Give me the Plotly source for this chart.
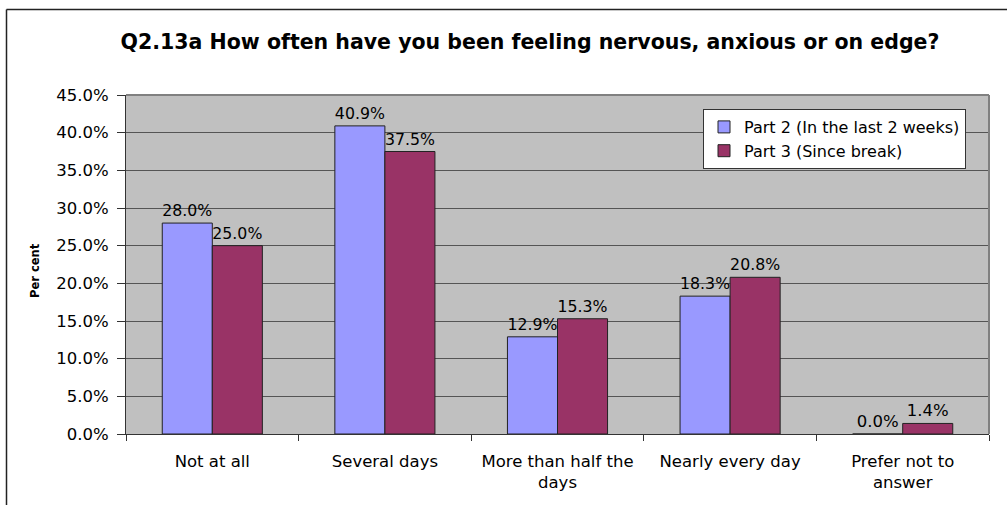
import plotly.graph_objects as go

categories = ["Not at all", "Several days", "More than half the<br>days",
              "Nearly every day", "Prefer not to<br>answer"]
part2 = [0.280, 0.409, 0.129, 0.183, 0.000]
part3 = [0.250, 0.375, 0.153, 0.208, 0.014]
series_names = ["Part 2 (In the last 2 weeks)", "Part 3 (Since break)"]

W, H = 1007, 505
ML, MR, MT, MB = 126, 18, 95, 71
PW, PH = W - ML - MR, H - MT - MB

FONT = "DejaVu Sans, Arial, sans-serif"

fig = go.Figure()
for name, vals, color in [(series_names[0], part2, "#9999FF"),
                          (series_names[1], part3, "#993366")]:
    fig.add_trace(go.Bar(
        x=categories, y=vals, name=name,
        marker=dict(color=color, line=dict(color="#222222", width=1)),
        text=[f"{v*100:.1f}%" for v in vals],
        textposition="outside", cliponaxis=False,
        textfont=dict(family=FONT, size=16.5, color="black"),
    ))


def px_x(p):
    return (p - ML) / PW


def px_y(p):
    return (H - MB - p) / PH


fig.update_layout(
    width=W, height=H,
    margin=dict(l=ML, r=MR, t=MT, b=MB),
    paper_bgcolor="white", plot_bgcolor="#C0C0C0",
    barmode="group", bargap=0.42, bargroupgap=0,
    font=dict(family=FONT, size=16.5, color="black"),
    title=dict(text="<b>Q2.13a How often have you been feeling nervous, anxious or on edge?</b>",
               x=530 / W, xanchor="center", y=1 - 42 / H, yanchor="middle",
               font=dict(family=FONT, size=20.5, color="black")),
    legend=dict(x=px_x(703), y=px_y(109), xanchor="left", yanchor="top",
                bgcolor="white", bordercolor="#333333", borderwidth=1,
                font=dict(family=FONT, size=16), itemwidth=30,
                tracegroupgap=0),
    xaxis=dict(showgrid=False, tickson="boundaries", ticks="outside",
               ticklen=6, tickcolor="#333333", showline=True,
               linecolor="#333333", linewidth=1, ticklabelstandoff=12,
               tickfont=dict(family=FONT, size=16.5)),
    yaxis=dict(range=[0, 0.45], dtick=0.05, tickformat=".1%",
               showgrid=True, gridcolor="#555555", gridwidth=1,
               ticks="outside", ticklen=8, tickcolor="#333333",
               showline=True, linecolor="#333333", linewidth=1,
               zeroline=False, ticklabelstandoff=5,
               tickfont=dict(family=FONT, size=16.5)),
    showlegend=True,
    annotations=[dict(text="<b>Per cent</b>", textangle=-90,
                      x=px_x(35), y=px_y(271), xref="paper", yref="paper",
                      xanchor="center", yanchor="middle", showarrow=False,
                      font=dict(family=FONT, size=11.5, color="black"))],
    shapes=[
        # plot-area frame (top and right edges)
        dict(type="line", xref="paper", yref="paper", x0=0, x1=1, y0=1, y1=1,
             line=dict(color="#808080", width=2)),
        dict(type="line", xref="paper", yref="paper", x0=1, x1=1, y0=0, y1=1,
             line=dict(color="#808080", width=2)),
        # chart frame
        dict(type="line", xref="paper", yref="paper",
             x0=px_x(6.5), x1=px_x(6.5), y0=px_y(9.5), y1=px_y(520),
             line=dict(color="#222222", width=1.5)),
        dict(type="line", xref="paper", yref="paper",
             x0=px_x(6.5), x1=px_x(1020), y0=px_y(9.5), y1=px_y(9.5),
             line=dict(color="#222222", width=1.5)),
    ],
)

fig.write_html("out.html")
